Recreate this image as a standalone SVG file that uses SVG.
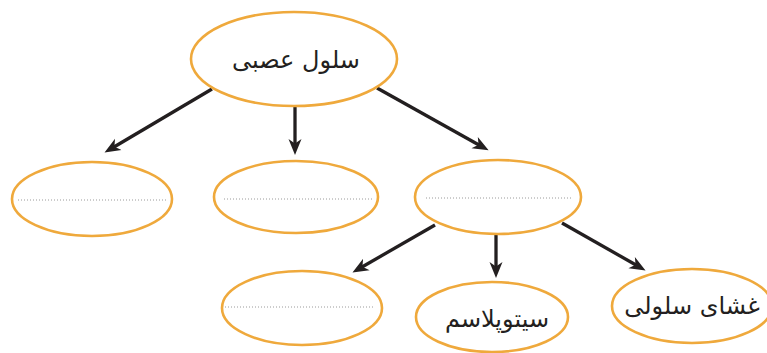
<svg xmlns="http://www.w3.org/2000/svg" width="767" height="353" viewBox="0 0 767 353">
<defs>
<marker id="ah" markerUnits="userSpaceOnUse" markerWidth="18" markerHeight="16" viewBox="0 0 18 16" refX="5" refY="8" orient="auto">
<path d="M0,1.5 L16,8 L0,14.5 L4.5,8 Z" fill="#231f20"/>
</marker>
<style>
.node{fill:#fff;stroke:#efa93c;stroke-width:2.6}
.dot{stroke:#9a9a9a;stroke-width:1;stroke-dasharray:1 2}
.lbl{font-family:"DejaVu Sans",sans-serif;font-size:24px;fill:#231f20;text-anchor:middle}
.edge{stroke:#231f20;stroke-width:3.3;fill:none;marker-end:url(#ah)}
</style>
</defs>
<rect width="767" height="353" fill="#fff"/>
<g id="connectors">
<line class="edge" x1="212" y1="89" x2="114" y2="147"/>
<line class="edge" x1="295" y1="105" x2="295" y2="144"/>
<line class="edge" x1="377" y1="88" x2="479" y2="145"/>
<line class="edge" x1="435" y1="225" x2="362" y2="267"/>
<line class="edge" x1="496" y1="233" x2="496" y2="267"/>
<line class="edge" x1="562" y1="223" x2="636" y2="265"/>
</g>
<g id="n-root">
<ellipse class="node" cx="294" cy="59" rx="103" ry="47"/>
<text class="lbl" x="296" y="68">سلول عصبی</text>
</g>
<g id="n-a">
<ellipse class="node" cx="92" cy="199" rx="80" ry="37"/>
<line class="dot" x1="18" y1="200" x2="167" y2="200"/>
</g>
<g id="n-b">
<ellipse class="node" cx="296" cy="197" rx="82" ry="36"/>
<line class="dot" x1="224" y1="199" x2="373" y2="199"/>
</g>
<g id="n-c">
<ellipse class="node" cx="498" cy="197" rx="83" ry="37"/>
<line class="dot" x1="426" y1="198" x2="572" y2="198"/>
</g>
<g id="n-d">
<ellipse class="node" cx="302" cy="308" rx="80" ry="37"/>
<line class="dot" x1="225" y1="307" x2="373" y2="307"/>
</g>
<g id="n-e">
<ellipse class="node" cx="492" cy="317" rx="76" ry="35"/>
<text class="lbl" x="497" y="327">سیتوپلاسم</text>
</g>
<g id="n-f">
<ellipse class="node" cx="692" cy="306" rx="80" ry="37"/>
<text class="lbl" x="692" y="314">غشای سلولی</text>
</g>
</svg>
